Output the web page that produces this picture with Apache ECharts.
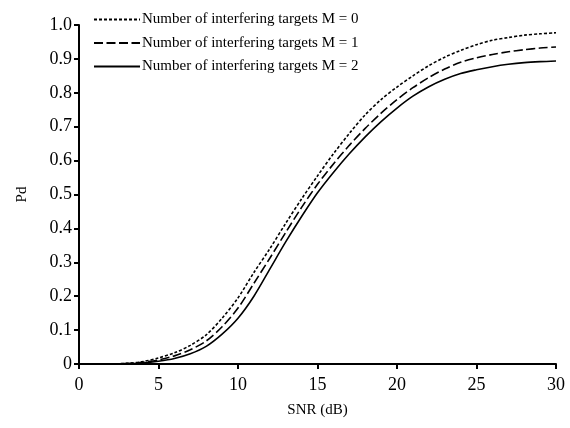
<!DOCTYPE html>
<html>
<head>
<meta charset="utf-8">
<script src="https://cdn.jsdelivr.net/npm/echarts@6/dist/echarts.min.js"></script>
<style>
  html, body { margin: 0; padding: 0; background: #fff; }
  #chart { width: 570px; height: 428px; }
</style>
</head>
<body>
<div id="chart"></div>
<script>
// Pd vs SNR for different numbers of interfering targets

const snr = [2, 3, 4, 5, 6, 7, 8, 9, 10, 11, 12, 13, 14, 15, 16, 17, 18, 19, 20, 21, 22, 23, 24, 25, 26, 27, 28, 29, 30];

const pdM0 = [0, 0.002, 0.007, 0.018, 0.033, 0.055, 0.086, 0.135, 0.195, 0.27, 0.34, 0.415, 0.487, 0.555, 0.62, 0.68, 0.735, 0.78, 0.817, 0.85, 0.88, 0.905, 0.925, 0.942, 0.955, 0.963, 0.97, 0.974, 0.977];
const pdM1 = [0, 0.001, 0.005, 0.012, 0.024, 0.042, 0.068, 0.11, 0.165, 0.238, 0.312, 0.388, 0.462, 0.53, 0.59, 0.645, 0.695, 0.74, 0.78, 0.815, 0.845, 0.87, 0.89, 0.903, 0.913, 0.921, 0.927, 0.932, 0.935];
const pdM2 = [0, 0.001, 0.003, 0.008, 0.016, 0.03, 0.052, 0.088, 0.135, 0.2, 0.28, 0.36, 0.435, 0.505, 0.565, 0.62, 0.67, 0.715, 0.755, 0.79, 0.818, 0.84, 0.857, 0.868, 0.877, 0.884, 0.889, 0.892, 0.894];

const seriesNames = [
  'Number of interfering targets M = 0',
  'Number of interfering targets M = 1',
  'Number of interfering targets M = 2'
];

const font = 'Liberation Serif';

const pairs = (ys) => snr.map((x, i) => [x, ys[i]]);

const chart = echarts.init(document.getElementById('chart'));

const lineSeries = (name, ys, type) => ({
  name: name,
  type: 'line',
  smooth: 0.3,
  symbol: 'none',
  lineStyle: { color: '#000', width: 1.6, type: type },
  itemStyle: { color: '#000' },
  data: pairs(ys)
});

const option = {
  animation: false,
  backgroundColor: '#fff',
  textStyle: { fontFamily: font, color: '#000' },
  legend: {
    orient: 'vertical',
    left: 88,
    top: 7,
    itemWidth: 46,
    itemHeight: 14,
    itemGap: 8.5,
    itemStyle: { opacity: 0 }, // hide the symbol, keep the line sample
    textStyle: { fontFamily: font, fontSize: 15, color: '#000', padding: [0, 0, 0, -3] },
    data: seriesNames
  },
  grid: {
    left: 79,
    right: 14,
    top: 25,
    bottom: 64
  },
  xAxis: {
    type: 'value',
    min: 0,
    max: 30,
    interval: 5,
    name: 'SNR (dB)',
    nameLocation: 'middle',
    nameGap: 39,
    nameTextStyle: { fontFamily: font, fontSize: 15, color: '#000' },
    axisLine: { lineStyle: { color: '#000', width: 2 } },
    axisTick: { length: 5, lineStyle: { color: '#000', width: 2 } },
    axisLabel: { fontFamily: font, fontSize: 18, color: '#000', margin: 12 },
    splitLine: { show: false }
  },
  yAxis: {
    type: 'value',
    min: 0,
    max: 1,
    interval: 0.1,
    name: 'Pd',
    nameLocation: 'middle',
    nameGap: 49,
    nameTextStyle: { fontFamily: font, fontSize: 15, color: '#000' },
    axisLine: { show: true, lineStyle: { color: '#000', width: 2 } },
    axisTick: { show: true, length: 5, lineStyle: { color: '#000', width: 2 } },
    axisLabel: {
      fontFamily: font,
      fontSize: 18,
      color: '#000',
      margin: 7,
      formatter: (v) => (v === 0 ? '0' : v.toFixed(1))
    },
    splitLine: { show: false }
  },
  series: [
    lineSeries(seriesNames[0], pdM0, [3, 2]),
    lineSeries(seriesNames[1], pdM1, [9, 3.5]),
    lineSeries(seriesNames[2], pdM2, 'solid')
  ]
};

chart.setOption(option);
</script>
</body>
</html>
